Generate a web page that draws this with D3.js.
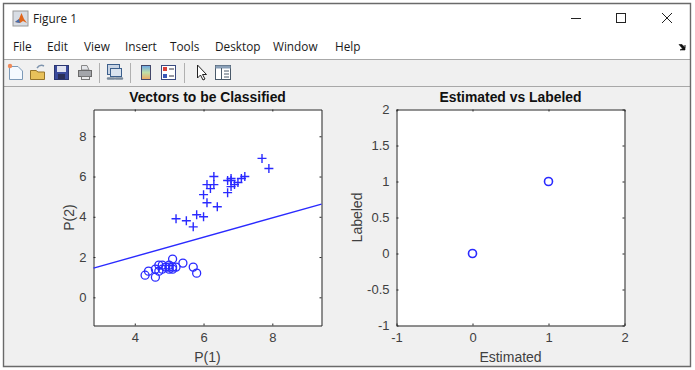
<!DOCTYPE html>
<html>
<head>
<meta charset="utf-8">
<script src="https://d3js.org/d3.v7.min.js"></script>
<style>
  html, body { margin: 0; padding: 0; background: #fff; overflow: hidden; }
  text { font-family: "Liberation Sans", Arial, sans-serif; }
  .ui { font-family: "Open Sans", "Noto Sans", sans-serif; font-size: 11.8px; fill: #1a1a1a; }
</style>
</head>
<body>
<div id="fig"></div>
<script>
// Left panel values
const circleX = [4.3, 4.4, 4.6, 4.6, 4.7, 4.7, 4.8, 4.8, 4.9, 5.0, 5.0, 5.0, 5.1, 5.1, 5.1, 5.2, 5.4, 5.7, 5.8];
const circleY = [1.1, 1.3, 1.0, 1.4, 1.6, 1.3, 1.6, 1.4, 1.5, 1.6, 1.4, 1.5, 1.9, 1.4, 1.5, 1.5, 1.7, 1.5, 1.2];
const plusX = [5.2, 5.5, 5.7, 5.8, 6.0, 6.1, 6.0, 6.4, 6.1, 6.2, 6.3, 6.3, 6.7, 6.7, 6.8, 6.8, 6.9, 6.8, 7.0, 7.1, 7.2, 7.7, 7.9];
const plusY = [3.9, 3.8, 3.5, 4.1, 4.0, 4.7, 5.1, 4.5, 5.6, 5.4, 5.6, 6.0, 5.2, 5.8, 5.5, 5.8, 5.6, 5.9, 5.7, 5.9, 6.0, 6.9, 6.4];
const lineX = [2.8, 9.43];
const lineY = [1.45, 4.63];
const leftXTicks = [4, 6, 8];
const leftYTicks = [0, 2, 4, 6, 8];

// Right panel values
const estimated = [0, 1];
const labeled = [0, 1];
const rightXTicks = [-1, 0, 1, 2];
const rightYTicks = [-1, -0.5, 0, 0.5, 1, 1.5, 2];

const menuItems = ["File", "Edit", "View", "Insert", "Tools", "Desktop", "Window", "Help"];
const menuPos = [13, 47, 84, 125, 170, 215, 273, 335];
const sepPos = [99, 130, 184];

const width = 695, height = 370;
const svg = d3.select("#fig").append("svg")
  .attr("width", width)
  .attr("height", height)
  .style("display", "block");

// window chrome
svg.append("rect").attr("width", width).attr("height", height).attr("fill", "#ffffff");
svg.append("rect").attr("x", 3).attr("y", 60).attr("width", 687).attr("height", 306).attr("fill", "#f0f0f0");
svg.append("line").attr("x1", 4).attr("x2", 690).attr("y1", 59.5).attr("y2", 59.5).attr("stroke", "#a8a8a8");
svg.append("line").attr("x1", 4).attr("x2", 690).attr("y1", 86.5).attr("y2", 86.5).attr("stroke", "#a8a8a8");
svg.append("path").attr("d", "M3.5,366.5V3.5H690.5V366.5Z").attr("fill", "none").attr("stroke", "#6a6a6a").attr("stroke-width", 1.4);

// title bar
const logo = svg.append("g").attr("transform", "translate(13,11)");
logo.append("rect").attr("width", 15).attr("height", 15).attr("fill", "#d8dde4").attr("stroke", "#9a9a9a");
logo.append("path").attr("d", "M2,11L6,8L8.5,2L11,8L14,12L10,10L7,12Z").attr("fill", "#e0661c");
logo.append("path").attr("d", "M2,11L6,8L7,12Z").attr("fill", "#3f6fb5");
svg.append("text").attr("class", "ui").attr("x", 33).attr("y", 23).text("Figure 1");

// window buttons
svg.append("line").attr("x1", 571).attr("x2", 581).attr("y1", 18.5).attr("y2", 18.5).attr("stroke", "#222");
svg.append("rect").attr("x", 616.5).attr("y", 13.5).attr("width", 9).attr("height", 9).attr("fill", "none").attr("stroke", "#222");
svg.append("path").attr("d", "M662,13L672,23M672,13L662,23").attr("fill", "none").attr("stroke", "#222");

// menu
svg.selectAll("text.menu")
  .data(menuItems)
  .enter().append("text")
  .attr("class", "ui menu")
  .attr("x", (d, i) => menuPos[i])
  .attr("y", 51)
  .text(d => d);
svg.append("path").attr("d", "M679,44.5H682L685,47.5V45L685,50H680L682.5,48.5Z").attr("fill", "#111").attr("stroke", "#111").attr("stroke-width", 0.6);

// toolbar icons
const tb = svg.append("g");
tb.selectAll("line.sep")
  .data(sepPos)
  .enter().append("line")
  .attr("class", "sep")
  .attr("x1", d => d + 0.5).attr("x2", d => d + 0.5)
  .attr("y1", 63).attr("y2", 83)
  .attr("stroke", "#b0b0b0");
tb.append("path").attr("d", "M9.5,66.5H18L22.5,71V79.5H9.5Z").attr("fill", "#f4f9ff").attr("stroke", "#7d9ab8");
tb.append("circle").attr("cx", 10).attr("cy", 66).attr("r", 2.2).attr("fill", "#ef8a5a");
tb.append("path").attr("d", "M30.5,79.5V70.5H36L38,72H44.5V79.5Z").attr("fill", "#e8c15a").attr("stroke", "#96742a");
tb.append("path").attr("d", "M37,68Q40,64 44,66").attr("fill", "none").attr("stroke", "#7d93ad").attr("stroke-width", 1.5);
tb.append("rect").attr("x", 54.5).attr("y", 65.5).attr("width", 14).attr("height", 14).attr("fill", "#3a4a9c").attr("stroke", "#2a3570");
tb.append("rect").attr("x", 57).attr("y", 66).attr("width", 9).attr("height", 6).attr("fill", "#dfe2f0");
tb.append("rect").attr("x", 58).attr("y", 74).attr("width", 7).attr("height", 5).attr("fill", "#2a2f58");
tb.append("path").attr("d", "M81.5,70V65.5H87L89,70Z").attr("fill", "#e4e6ea").attr("stroke", "#888");
tb.append("rect").attr("x", 78.5).attr("y", 70.5).attr("width", 13).attr("height", 6).attr("fill", "#a4a6aa").attr("stroke", "#6a6a6a");
tb.append("rect").attr("x", 81.5).attr("y", 76.5).attr("width", 8).attr("height", 3).attr("fill", "#ececec").attr("stroke", "#777");
tb.append("rect").attr("x", 107.5).attr("y", 64.5).attr("width", 12).attr("height", 10).attr("fill", "#c8d4e4").attr("stroke", "#3c5f8c");
tb.append("rect").attr("x", 110.5).attr("y", 68.5).attr("width", 11).attr("height", 8).attr("fill", "#d8e2ee").attr("stroke", "#3c5f8c");
tb.append("path").attr("d", "M108,78.5H114M116,78.5H122").attr("stroke", "#7a8a9c").attr("stroke-width", 2.5).attr("stroke-linecap", "round");

// colorbar and legend icons
const cbar = svg.append("defs").append("linearGradient")
  .attr("id", "cbar").attr("x1", 0).attr("x2", 0).attr("y1", 0).attr("y2", 1);
cbar.append("stop").attr("offset", "0%").attr("stop-color", "#6aa6e8");
cbar.append("stop").attr("offset", "50%").attr("stop-color", "#bfe0a8");
cbar.append("stop").attr("offset", "100%").attr("stop-color", "#f0a860");
tb.append("rect").attr("x", 141.5).attr("y", 65.5).attr("width", 9).attr("height", 14).attr("fill", "url(#cbar)").attr("stroke", "#44486a");
tb.append("rect").attr("x", 161.5).attr("y", 65.5).attr("width", 14).attr("height", 14).attr("fill", "#fff").attr("stroke", "#3a4a80");
tb.append("rect").attr("x", 163).attr("y", 67).attr("width", 4).attr("height", 4).attr("fill", "#d8403a");
tb.append("rect").attr("x", 163).attr("y", 74).attr("width", 4).attr("height", 4).attr("fill", "#3a58b8");
tb.append("path").attr("d", "M169,69H174M169,76H174").attr("stroke", "#334");
tb.append("path").attr("d", "M197.5,65V78L200.5,75L203,80L205,79L202.5,74.5H206.5Z").attr("fill", "#fff").attr("stroke", "#222");
tb.append("rect").attr("x", 215.5).attr("y", 65.5).attr("width", 15).attr("height", 14).attr("fill", "#fff").attr("stroke", "#4a5a6a");
tb.append("rect").attr("x", 215.5).attr("y", 65.5).attr("width", 15).attr("height", 3).attr("fill", "#8aa0b8");
tb.append("path").attr("d", "M221.5,68V79M224,71H229M224,74H229M224,77H229").attr("stroke", "#4a5a6a");

// plain hyphen for negatives, like the reference
const tickText = d => String(d);

// draws one boxed MATLAB style axes
function makeAxes(box, xDomain, yDomain, xTicks, yTicks, title, xLabel, yLabel) {
  const x = d3.scaleLinear().domain(xDomain).range([box.left, box.right]);
  const y = d3.scaleLinear().domain(yDomain).range([box.bottom, box.top]);

  svg.append("rect")
    .attr("x", box.left).attr("y", box.top)
    .attr("width", box.right - box.left).attr("height", box.bottom - box.top)
    .attr("fill", "#fff");

  const axis = svg.append("g");
  const styleAxis = g => {
    g.select(".domain").attr("stroke", "#262626");
    g.selectAll("line").attr("stroke", "#262626");
    g.selectAll("text").attr("fill", "#404040").attr("font-size", 13)
      .attr("font-family", '"Liberation Sans", Arial, sans-serif');
  };
  // bottom and top, left and right, ticks point inward
  axis.append("g").attr("transform", `translate(0,${box.bottom})`)
    .call(d3.axisBottom(x).tickValues(xTicks).tickSize(-2).tickPadding(7).tickSizeOuter(0).tickFormat(tickText))
    .call(styleAxis);
  axis.append("g").attr("transform", `translate(${box.left},0)`)
    .call(d3.axisLeft(y).tickValues(yTicks).tickSize(-2).tickPadding(7).tickSizeOuter(0).tickFormat(tickText))
    .call(styleAxis);
  axis.append("g").attr("transform", `translate(0,${box.top})`)
    .call(d3.axisTop(x).tickValues(xTicks).tickSize(-2).tickSizeOuter(0).tickFormat(""))
    .call(styleAxis);
  axis.append("g").attr("transform", `translate(${box.right},0)`)
    .call(d3.axisRight(y).tickValues(yTicks).tickSize(-2).tickSizeOuter(0).tickFormat(""))
    .call(styleAxis);

  const mid = (box.left + box.right) / 2;
  svg.append("text")
    .attr("x", mid).attr("y", box.top - 8)
    .attr("text-anchor", "middle").attr("font-size", 13.9).attr("font-weight", "bold")
    .attr("fill", "#111").text(title);
  svg.append("text")
    .attr("x", mid).attr("y", box.bottom + 36)
    .attr("text-anchor", "middle").attr("font-size", 14).attr("fill", "#404040").text(xLabel);
  svg.append("text")
    .attr("transform", `translate(${box.labelX},${(box.top + box.bottom) / 2}) rotate(-90)`)
    .attr("text-anchor", "middle").attr("font-size", 14).attr("fill", "#404040").text(yLabel);

  return { x, y };
}

const blue = "#2a2aff";

// Left panel
const left = makeAxes({ left: 93.5, right: 321.5, top: 109.5, bottom: 325.5, labelX: 74 },
  [2.8, 9.43], [-1.4, 9.33], leftXTicks, leftYTicks,
  "Vectors to be Classified", "P(1)", "P(2)");

svg.append("line")
  .attr("x1", left.x(lineX[0])).attr("y1", left.y(lineY[0]))
  .attr("x2", left.x(lineX[1])).attr("y2", left.y(lineY[1]))
  .attr("stroke", blue).attr("stroke-width", 1.4);

svg.append("g").selectAll("circle")
  .data(circleX)
  .enter().append("circle")
  .attr("cx", d => left.x(d))
  .attr("cy", (d, i) => left.y(circleY[i]))
  .attr("r", 4)
  .attr("fill", "none").attr("stroke", blue).attr("stroke-width", 1.3);

svg.append("g").selectAll("path")
  .data(plusX)
  .enter().append("path")
  .attr("transform", (d, i) => `translate(${left.x(d)},${left.y(plusY[i])})`)
  .attr("d", "M-4.5,0H4.5M0,-4.5V4.5")
  .attr("fill", "none").attr("stroke", blue).attr("stroke-width", 1.4);

// Right panel
const right = makeAxes({ left: 396.5, right: 624.5, top: 109.5, bottom: 325.5, labelX: 362 },
  [-1, 2], [-1, 2], rightXTicks, rightYTicks,
  "Estimated vs Labeled", "Estimated", "Labeled");

svg.append("g").selectAll("circle")
  .data(estimated)
  .enter().append("circle")
  .attr("cx", d => right.x(d))
  .attr("cy", (d, i) => right.y(labeled[i]))
  .attr("r", 4)
  .attr("fill", "none").attr("stroke", blue).attr("stroke-width", 1.6);
</script>
</body>
</html>
